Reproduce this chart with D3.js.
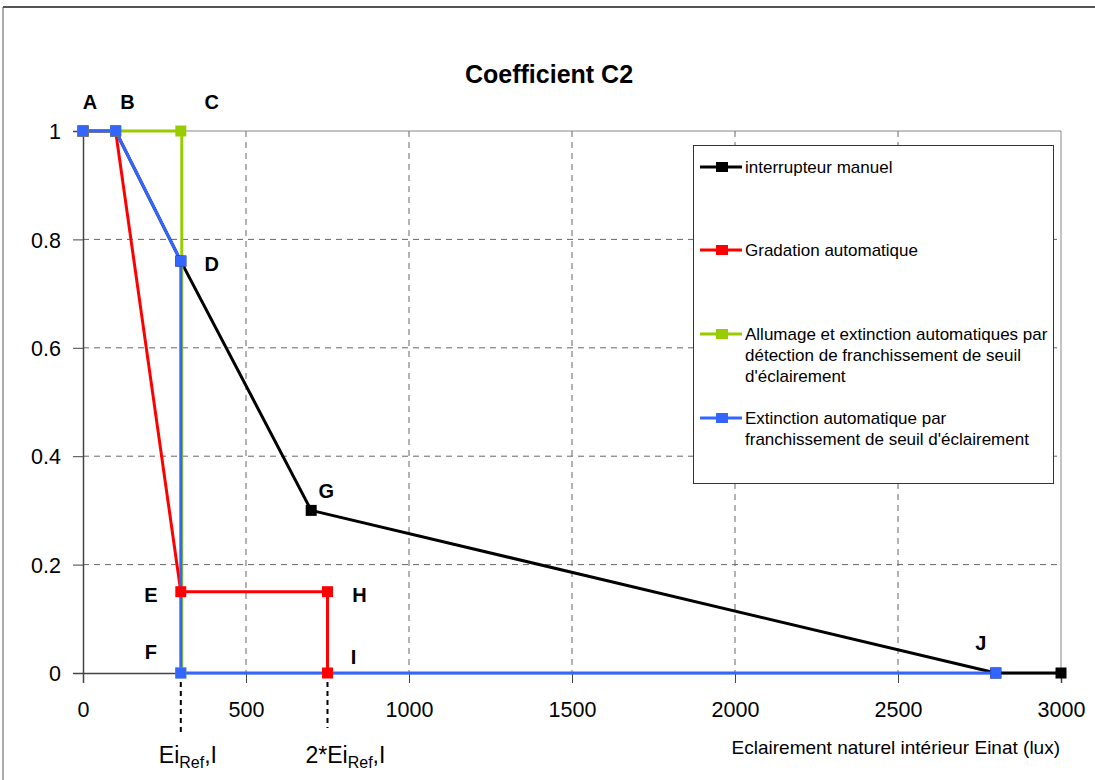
<!DOCTYPE html>
<html>
<head>
<meta charset="utf-8">
<script src="https://cdn.jsdelivr.net/npm/d3@7"></script>
<style>
  body { margin: 0; background: #fff; }
  svg { display: block; font-family: "Liberation Sans", Arial, sans-serif; }
</style>
</head>
<body>
<svg id="chart" width="1095" height="780"></svg>
<script>
// series data (x in lux, y = coefficient)
const manualX = [0, 100, 300, 700, 2800, 3000];
const manualY = [1, 1, 0.76, 0.3, 0, 0];
const gradX = [0, 100, 300, 750, 750];
const gradY = [1, 1, 0.15, 0.15, 0];
const allumX = [0, 100, 300, 300];
const allumY = [1, 1, 1, 0];
const extX = [0, 100, 300, 300, 2800];
const extY = [1, 1, 0.76, 0, 0];

const xTicks = [0, 500, 1000, 1500, 2000, 2500, 3000];
const yTicks = [0, 0.2, 0.4, 0.6, 0.8, 1];

const seriesNames = [
  ["interrupteur manuel"],
  ["Gradation automatique"],
  ["Allumage et extinction automatiques par", "détection de franchissement de seuil", "d'éclairement"],
  ["Extinction automatique par", "franchissement de seuil d'éclairement"]
];
const seriesColors = ["#000000", "#ff0000", "#99cc00", "#3366ff"];

// point letters: name, x, y, pixel offset
const letterNames = ["A", "B", "C", "D", "E", "F", "G", "H", "I", "J"];
const letterX = [0, 100, 300, 300, 300, 300, 700, 750, 750, 2800];
const letterY = [1, 1, 1, 0.76, 0.15, 0, 0.3, 0.15, 0, 0];
const letterDx = [7, 12, 31, 31, -30, -30, 15, 32, 26, -15];
const letterDy = [-29, -29, -29, 3, 3, -21, -19, 3, -16, -30];

const refX = [300, 750];
const refPrefix = ["Ei", "2*Ei"];

const svg = d3.select("#chart");

const x = d3.scaleLinear().domain([0, 3000]).range([83, 1061]);
const y = d3.scaleLinear().domain([0, 1]).range([673, 131]);

// outer frame
svg.append("line").attr("x1", 3).attr("x2", 1095).attr("y1", 7).attr("y2", 7)
  .attr("stroke", "#555").attr("stroke-width", 2);
svg.append("line").attr("x1", 3).attr("x2", 3).attr("y1", 7).attr("y2", 780)
  .attr("stroke", "#555").attr("stroke-width", 1);

// title
svg.append("text").attr("x", 549).attr("y", 83)
  .attr("text-anchor", "middle").attr("font-size", 25).attr("font-weight", "bold")
  .text("Coefficient C2");

// grid
const grid = svg.append("g");
grid.selectAll(".gy").data(yTicks.filter(d => d > 0 && d < 1)).enter().append("line")
  .attr("x1", x(0)).attr("x2", x(3000)).attr("y1", d => y(d)).attr("y2", d => y(d))
  .attr("stroke", "#666").attr("stroke-dasharray", "6,5");
grid.selectAll(".gx").data(xTicks.filter(d => d > 0 && d < 3000)).enter().append("line")
  .attr("x1", d => x(d)).attr("x2", d => x(d)).attr("y1", y(1)).attr("y2", y(0))
  .attr("stroke", "#666").attr("stroke-dasharray", "6,5");

// plot border top / right
svg.append("line").attr("x1", x(0)).attr("x2", x(3000)).attr("y1", y(1)).attr("y2", y(1))
  .attr("stroke", "#888");
svg.append("line").attr("x1", x(3000)).attr("x2", x(3000)).attr("y1", y(1)).attr("y2", y(0))
  .attr("stroke", "#888");

// axes
const xAxis = svg.append("g").attr("transform", `translate(0,${y(0)})`)
  .call(d3.axisBottom(x).tickValues(xTicks).tickSize(10).tickFormat(d3.format("d")));
const yAxis = svg.append("g").attr("transform", `translate(${x(0)},0)`)
  .call(d3.axisLeft(y).tickValues(yTicks).tickSize(10).tickFormat(d => d === 0 || d === 1 ? d : d.toFixed(1)));
[xAxis, yAxis].forEach(a => {
  a.select(".domain").attr("stroke", "#444").attr("stroke-width", 1.5);
  a.selectAll(".tick line").attr("stroke", "#444");
  a.selectAll("text").attr("font-size", 21.5).attr("fill", "#000")
    .attr("font-family", "Liberation Sans, Arial, sans-serif");
});
xAxis.selectAll("text").attr("dy", null).attr("y", 44);
yAxis.selectAll("text").attr("x", -22).attr("dy", "0.36em");

// axis title
svg.append("text").attr("x", 1060).attr("y", 754).attr("text-anchor", "end")
  .attr("font-size", 19).text("Eclairement naturel intérieur Einat (lux)");

// reference markers below the axis
refX.forEach((v, i) => {
  svg.append("line").attr("x1", x(v)).attr("x2", x(v)).attr("y1", y(0))
    .attr("y2", y(0) + (i === 0 ? 60 : 55))
    .attr("stroke", "#000").attr("stroke-width", 2).attr("stroke-dasharray", "5,4");
  const t = svg.append("text").attr("x", x(v) - 22).attr("y", 763).attr("font-size", 23);
  t.append("tspan").text(refPrefix[i]);
  t.append("tspan").attr("font-size", 16).attr("dy", 5).text("Ref");
  t.append("tspan").attr("dy", -5).text(",I");
});

// series
const series = [
  [manualX, manualY], [gradX, gradY], [allumX, allumY], [extX, extY]
].map(([xs, ys], i) => ({ pts: xs.map((v, j) => [v, ys[j]]), color: seriesColors[i] }));

const line = d3.line().x(d => x(d[0])).y(d => y(d[1]));
const lines = svg.append("g");
series.forEach((s, i) => {
  // the green vertical shows as a thin edge beside the blue one
  lines.append("path").attr("d", line(s.pts)).attr("fill", "none")
    .attr("transform", i === 2 ? "translate(1,0)" : null)
    .attr("stroke", s.color).attr("stroke-width", 3).attr("stroke-linejoin", "round");
});
const marks = svg.append("g");
series.forEach(s => {
  marks.selectAll(null).data(s.pts).enter().append("rect")
    .attr("x", d => x(d[0]) - 5.5).attr("y", d => y(d[1]) - 5.5)
    .attr("width", 11).attr("height", 11).attr("fill", s.color);
});

// point letters
svg.append("g").selectAll("text").data(letterNames).enter().append("text")
  .attr("x", (d, i) => x(letterX[i]) + letterDx[i])
  .attr("y", (d, i) => y(letterY[i]) + letterDy[i])
  .attr("text-anchor", "middle").attr("dominant-baseline", "central")
  .attr("font-size", 20).attr("font-weight", "bold").text(d => d);

// legend
const lg = svg.append("g");
lg.append("rect").attr("x", 693.5).attr("y", 145.5).attr("width", 360).attr("height", 338)
  .attr("fill", "#fff").attr("stroke", "#333");
const legendY = [167, 250, 334, 418];
seriesNames.forEach((lines, i) => {
  const ly = legendY[i];
  lg.append("line").attr("x1", 700).attr("x2", 742).attr("y1", ly).attr("y2", ly)
    .attr("stroke", seriesColors[i]).attr("stroke-width", 3);
  lg.append("rect").attr("x", 716).attr("y", ly - 5).attr("width", 12).attr("height", 10)
    .attr("fill", seriesColors[i]);
  const t = lg.append("text").attr("x", 745).attr("y", ly).attr("font-size", 17)
    .attr("dominant-baseline", "central");
  lines.forEach((s, k) => {
    t.append("tspan").attr("x", 745).attr("dy", k === 0 ? 0 : 21).text(s);
  });
});
</script>
</body>
</html>
